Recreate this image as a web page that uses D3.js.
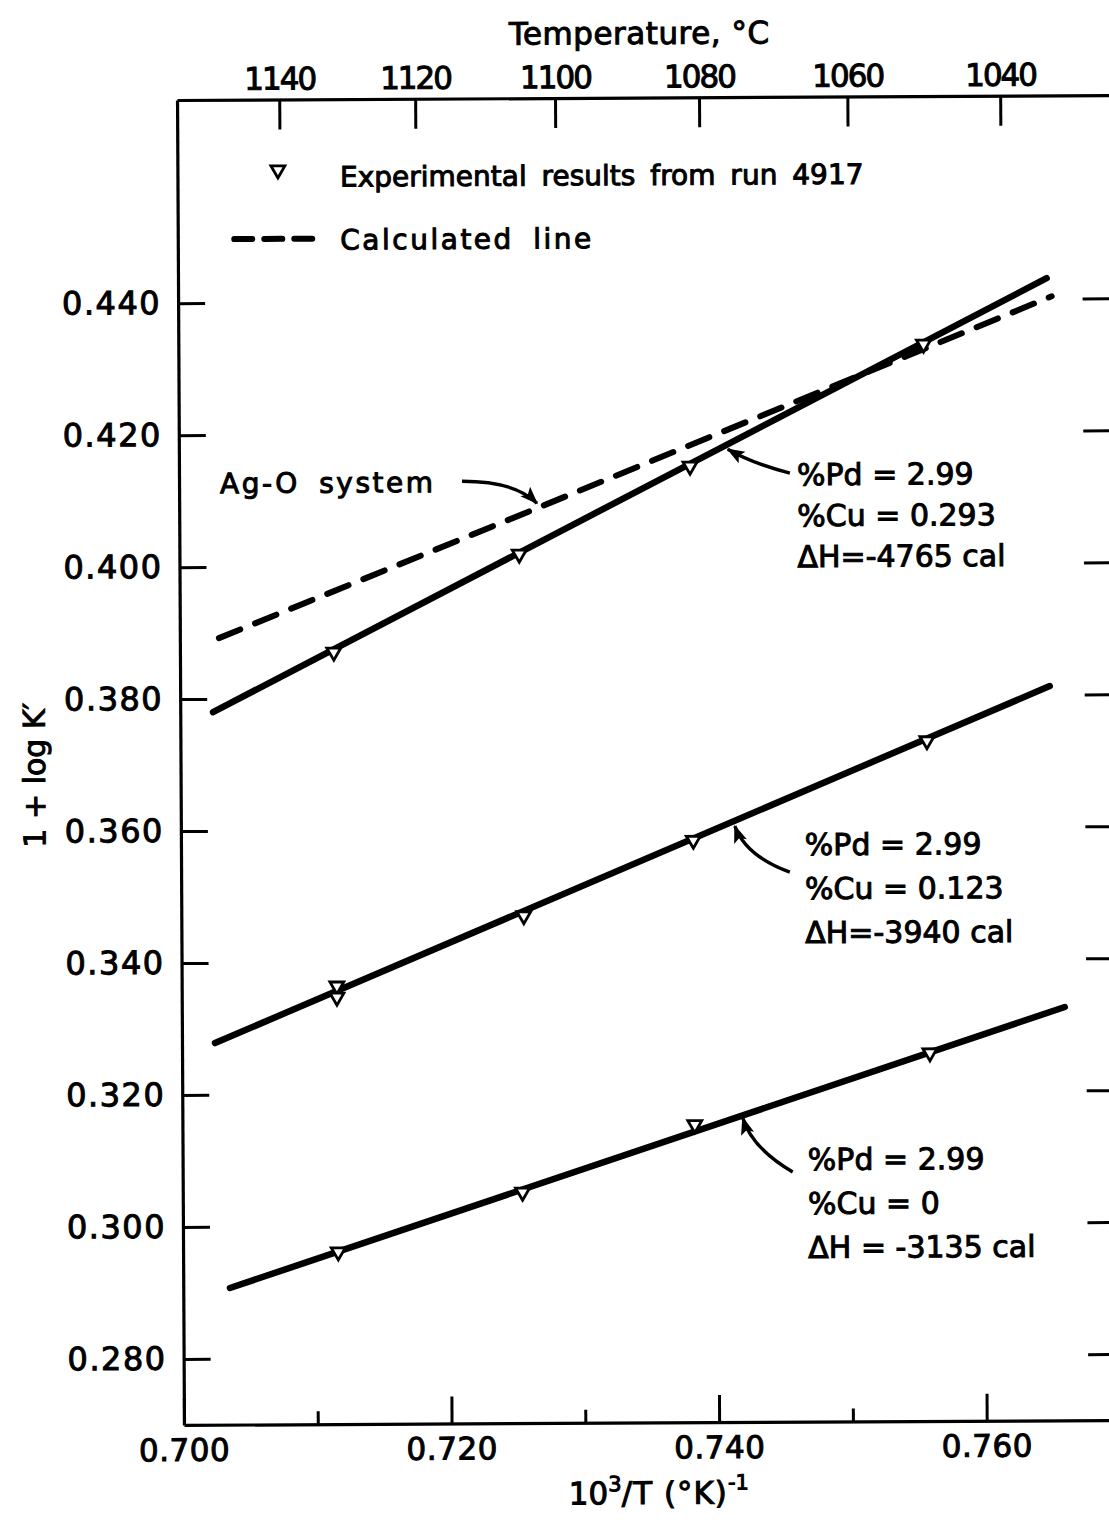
<!DOCTYPE html>
<html>
<head>
<meta charset="utf-8">
<script src="https://cdn.jsdelivr.net/npm/d3@7"></script>
<style>
  html, body { margin: 0; padding: 0; background: #fff; }
  svg { display: block; }
  text { font-family: "DejaVu Sans", "Liberation Sans", sans-serif; fill: #000; }
</style>
</head>
<body>
<svg id="chart" width="1109" height="1520"></svg>
<script>
// ---- data ----------------------------------------------------------------
const xMajorTicks = [0.700, 0.720, 0.740, 0.760];
const xMinorTicks = [0.710, 0.730, 0.750];
const yTicks = [0.280, 0.300, 0.320, 0.340, 0.360, 0.380, 0.400, 0.420, 0.440];
const tempTicks = [1140, 1120, 1100, 1080, 1060, 1040];   // °C

// run 4917, experimental points (10^3/T, 1 + log K')
const xCu0293 = [0.7115, 0.7254, 0.7382, 0.7557];
const yCu0293 = [0.3870, 0.4017, 0.4149, 0.4332];
const xCu0123 = [0.7116, 0.7116, 0.7256, 0.7383, 0.7558];
const yCu0123 = [0.3364, 0.3347, 0.3469, 0.3582, 0.3731];
const xCu0 = [0.7116, 0.7254, 0.7383, 0.7559];
const yCu0 = [0.2961, 0.3050, 0.3151, 0.3258];

// straight-line fits through each run (end points)
const fitXCu0293 = [0.70245, 0.76493];
const fitYCu0293 = [0.3780, 0.44311];
const fitXCu0123 = [0.70247, 0.76500];
const fitYCu0123 = [0.32785, 0.38129];
const fitXCu0 = [0.70349, 0.76600];
const fitYCu0 = [0.29071, 0.33264];

// calculated line for the Ag-O system
const calcX = [0.70292, 0.72674, 0.76530];
const calcY = [0.38921, 0.40865, 0.44036];

// alloy annotations
const alloyLabels = [
  ["%Pd = 2.99", "%Cu = 0.293", "ΔH=-4765 cal"],
  ["%Pd = 2.99", "%Cu = 0.123", "ΔH=-3940 cal"],
  ["%Pd = 2.99", "%Cu = 0", "ΔH = -3135 cal"]
];
// label anchor, arrow tail, arrow bend and arrow tip, in data units
const alloyLabelX = [0.74619, 0.74663, 0.74673];
const alloyLabelY = [0.41194, 0.35586, 0.30814];
const arrowTailX = [0.74566, 0.74550, 0.74560];
const arrowTailY = [0.41376, 0.35330, 0.30785];
const arrowBendX = [0.74282, 0.74222, 0.74255];
const arrowBendY = [0.41530, 0.35576, 0.31152];
const arrowTipX = [0.74103, 0.74141, 0.74189];
const arrowTipY = [0.41744, 0.36032, 0.31608];

const agoLabelX = 0.70306, agoLabelY = 0.41118;
const agoArrowX = [0.72115, 0.72511, 0.72674];
const agoArrowY = [0.41280, 0.41277, 0.40940];

// ---- layout --------------------------------------------------------------
const svg = d3.select("#chart");
svg.append("rect").attr("width", 1109).attr("height", 1520).attr("fill", "#fff");

const plotLeft = 180.5, plotRight = 1117, plotTop = 97.6, plotBottom = 1422.5;
const x = d3.scaleLinear().domain([0.700, 0.770]).range([plotLeft, plotRight]);
const y = d3.scaleLinear().domain([0.2700, 0.4708]).range([plotBottom, plotTop]);

const defs = svg.append("defs");
defs.append("marker")
  .attr("id", "head")
  .attr("viewBox", "0 0 12 10")
  .attr("refX", 11).attr("refY", 5)
  .attr("markerUnits", "userSpaceOnUse")
  .attr("markerWidth", 20).attr("markerHeight", 15)
  .attr("orient", "auto")
  .append("path")
  .attr("d", "M0,0.5 L12,5 L0,9.5 L2.5,5 Z")
  .attr("fill", "#000");

// the whole sheet sits very slightly turned
const g = svg.append("g").attr("transform", "rotate(-0.3, 640, 760)");

const ink = "#000";
const weight = 1.0;   // extra outline that thickens the lettering

function styleAxis(sel, showDomain, size) {
  sel.selectAll(".tick line").attr("stroke", ink).attr("stroke-width", 3);
  sel.select(".domain").attr("stroke", showDomain ? ink : "none").attr("stroke-width", 3.2);
  sel.selectAll("text")
    .attr("font-size", size || 30)
    .attr("font-family", "DejaVu Sans, sans-serif")
    .attr("fill", ink)
    .attr("stroke", ink)
    .attr("stroke-width", weight);
}

// left axis
const yAxisLeft = d3.axisLeft(y).tickValues(yTicks).tickSize(-27).tickSizeOuter(0)
  .tickPadding(17).tickFormat(d3.format(".3f"));
g.append("g").attr("transform", `translate(${plotLeft},0)`).call(yAxisLeft)
  .call(s => styleAxis(s, true, 32))
  .call(s => s.selectAll("text").attr("letter-spacing", 1.5));

// right axis
const yAxisRight = d3.axisRight(y).tickValues(yTicks).tickSize(-32).tickSizeOuter(0)
  .tickFormat("");
g.append("g").attr("transform", `translate(${plotRight},0)`).call(yAxisRight)
  .call(s => styleAxis(s, true));

// bottom axis, major and minor ticks
const xAxisBottom = d3.axisBottom(x).tickValues(xMajorTicks).tickSize(-27).tickSizeOuter(0)
  .tickPadding(14).tickFormat(d3.format(".3f"));
g.append("g").attr("transform", `translate(0,${plotBottom})`).call(xAxisBottom)
  .call(s => styleAxis(s, true, 31))
  .call(s => s.selectAll("text").attr("letter-spacing", 0.5));
const xAxisMinor = d3.axisBottom(x).tickValues(xMinorTicks).tickSize(-13).tickSizeOuter(0)
  .tickFormat("");
g.append("g").attr("transform", `translate(0,${plotBottom})`).call(xAxisMinor)
  .call(s => styleAxis(s, false));

// top axis in degrees Celsius
const toInvT = t => 1000 / (t + 273.15);
const xAxisTop = d3.axisTop(x).tickValues(tempTicks.map(toInvT)).tickSize(-30).tickSizeOuter(0)
  .tickPadding(10).tickFormat((d, i) => tempTicks[i]);
g.append("g").attr("transform", `translate(0,${plotTop})`).call(xAxisTop)
  .call(s => styleAxis(s, true, 31))
  .call(s => s.selectAll("text").attr("letter-spacing", -2));

// axis titles
function label(sel) {
  return sel.attr("fill", ink).attr("stroke", ink).attr("stroke-width", weight);
}
g.append("text").attr("x", 643).attr("y", 44).attr("text-anchor", "middle")
  .attr("font-size", 31).attr("letter-spacing", 0.5).text("Temperature, °C").call(label);
const xt = g.append("text").attr("x", 655).attr("y", 1504).attr("text-anchor", "middle")
  .attr("font-size", 31).call(label);
xt.append("tspan").text("10");
xt.append("tspan").attr("font-size", 21).attr("dy", -13).text("3");
xt.append("tspan").attr("dy", 13).attr("letter-spacing", 1).text("/T (°K)");
xt.append("tspan").attr("font-size", 21).attr("dy", -14).text("-1");
g.append("text").attr("transform", "translate(45,772) rotate(-90)")
  .attr("text-anchor", "middle").attr("font-size", 30).text("1 + log K′").call(label);

// ---- lines ---------------------------------------------------------------
const line = d3.line().x(d => x(d[0])).y(d => y(d[1]));
const fits = [
  d3.zip(fitXCu0293, fitYCu0293),
  d3.zip(fitXCu0123, fitYCu0123),
  d3.zip(fitXCu0, fitYCu0)
];
g.selectAll(".fit").data(fits).join("path").attr("class", "fit")
  .attr("d", line).attr("fill", "none").attr("stroke", ink)
  .attr("stroke-width", 6.5).attr("stroke-linecap", "round");

g.append("path").datum(d3.zip(calcX, calcY))
  .attr("d", line).attr("fill", "none").attr("stroke", ink)
  .attr("stroke-width", 6).attr("stroke-linecap", "round")
  .attr("stroke-dasharray", "23 16");

// ---- experimental points ------------------------------------------------
const pts = [].concat(
  d3.zip(xCu0293, yCu0293),
  d3.zip(xCu0123, yCu0123),
  d3.zip(xCu0, yCu0)
);
const tri = d3.symbol(d3.symbolTriangle, 84);
g.selectAll(".pt").data(pts).join("path").attr("class", "pt")
  .attr("d", tri)
  .attr("transform", d => `translate(${x(d[0])},${y(d[1])}) rotate(180)`)
  .attr("fill", "#fff").attr("stroke", ink).attr("stroke-width", 2.8);

// ---- legend -------------------------------------------------------------
g.append("path").attr("d", tri)
  .attr("transform", "translate(281,168) rotate(180)")
  .attr("fill", "#fff").attr("stroke", ink).attr("stroke-width", 2.8);
g.append("text").attr("x", 343).attr("y", 185).attr("font-size", 28)
  .attr("word-spacing", 6).text("Experimental results from run 4917").call(label);
g.append("line").attr("x1", 237).attr("x2", 316).attr("y1", 237).attr("y2", 237)
  .attr("stroke", ink).attr("stroke-width", 6).attr("stroke-linecap", "round")
  .attr("stroke-dasharray", "18 12");
g.append("text").attr("x", 343).attr("y", 248).attr("font-size", 28)
  .attr("letter-spacing", 2.5).attr("word-spacing", 8).text("Calculated line").call(label);

// ---- annotations --------------------------------------------------------
const curve = (xs, ys) =>
  `M${x(xs[0])},${y(ys[0])} Q${x(xs[1])},${y(ys[1])} ${x(xs[2])},${y(ys[2])}`;

g.append("text").attr("x", x(agoLabelX)).attr("y", y(agoLabelY)).attr("font-size", 28)
  .attr("letter-spacing", 2.5).attr("word-spacing", 8).text("Ag-O system").call(label);
g.append("path").attr("d", curve(agoArrowX, agoArrowY))
  .attr("fill", "none").attr("stroke", ink).attr("stroke-width", 3.4)
  .attr("marker-end", "url(#head)");

alloyLabels.forEach((lines, i) => {
  g.append("path")
    .attr("d", curve([arrowTailX[i], arrowBendX[i], arrowTipX[i]],
                     [arrowTailY[i], arrowBendY[i], arrowTipY[i]]))
    .attr("fill", "none").attr("stroke", ink).attr("stroke-width", 3.4)
    .attr("marker-end", "url(#head)");
  const t = g.append("text").attr("x", x(alloyLabelX[i])).attr("y", y(alloyLabelY[i]))
    .attr("font-size", 30).call(label);
  const gap = i === 0 ? 41 : 44;
  lines.forEach((s, j) => {
    t.append("tspan").attr("x", x(alloyLabelX[i])).attr("dy", j === 0 ? 0 : gap).text(s);
  });
});
</script>
</body>
</html>
